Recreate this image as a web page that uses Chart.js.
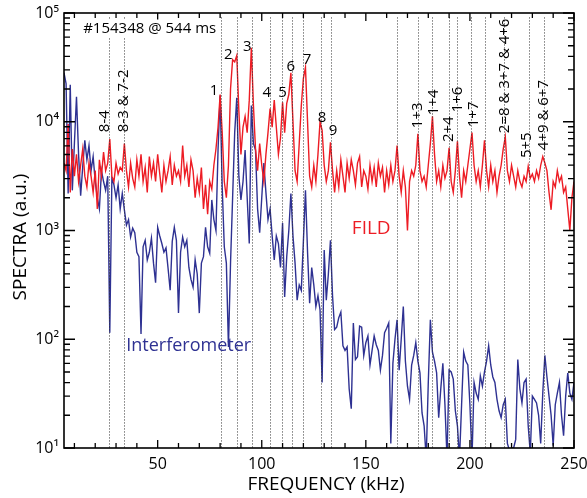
<!DOCTYPE html>
<html><head><meta charset="utf-8">
<script src="https://cdn.jsdelivr.net/npm/chart.js@4.4.1/dist/chart.umd.min.js"></script>
<style>html,body{margin:0;padding:0;background:#fff;overflow:hidden}</style>
</head><body>
<canvas id="c" width="587" height="498"></canvas>
<script>
// ---------- data ----------
const freqs = [5,6,7,8,9,10,11,12,13,14,15,16,17,18,19,20,21,22,23,24,25,26,27,28,29,30,31,32,33,34,35,36,37,38,39,40,41,42,43,44,45,46,47,48,49,50,51,52,53,54,55,56,57,58,59,60,61,62,63,64,65,66,67,68,69,70,71,72,73,74,75,76,77,78,79,80,81,82,83,84,85,86,87,88,89,90,91,92,93,94,95,96,97,98,99,100,101,102,103,104,105,106,107,108,109,110,111,112,113,114,115,116,117,118,119,120,121,122,123,124,125,126,127,128,129,130,131,132,133,134,135,136,137,138,139,140,141,142,143,144,145,146,147,148,149,150,151,152,153,154,155,156,157,158,159,160,161,162,163,164,165,166,167,168,169,170,171,172,173,174,175,176,177,178,179,180,181,182,183,184,185,186,187,188,189,190,191,192,193,194,195,196,197,198,199,200,201,202,203,204,205,206,207,208,209,210,211,212,213,214,215,216,217,218,219,220,221,222,223,224,225,226,227,228,229,230,231,232,233,234,235,236,237,238,239,240,241,242,243,244,245,246,247,248,249,250];

const fildValues = [
4170,3550,9550,2240,5620,3160,5010,2820,3980,5620,
3160,2510,4170,3160,2240,3550,1580,4470,3160,5250,
3550,4170,6920,3160,2820,4170,3310,3800,3550,6310,
3550,2510,4170,3020,2510,4470,3160,5010,2820,3800,
2240,4790,3160,4170,2820,5010,3310,2240,3980,2820,
3550,4790,2630,3980,3160,3550,2820,6030,3160,3980,
2510,4470,3550,2000,3020,2240,3800,1580,2630,1410,
2820,2400,3980,5620,8910,17800,7940,2820,2000,3980,
20000,37200,35500,40700,12600,5010,8910,11200,7940,15800,
47900,14100,5620,3550,6310,3980,2820,5010,7940,13200,
8910,15800,8910,5010,7080,15100,7940,14800,17800,28200,
10000,3550,2820,6310,14100,25100,31600,10000,3160,2510,
3980,2820,5010,10000,8320,3980,2820,3550,6460,3550,
2240,3550,2510,4470,3160,2240,4170,3020,4470,3550,
2630,4170,4790,2510,3550,3160,2400,3980,2820,3800,
2510,4170,3160,3800,2240,3550,2630,3980,2820,3550,
6030,3160,2240,3550,2510,1000,2820,3550,3160,3980,
7760,3550,2820,3160,2510,3980,6310,11200,5010,2820,
3550,2510,3980,3020,3550,5750,2820,2240,3550,6610,
3160,2000,3550,2820,3980,5620,7940,3980,2820,3550,
2510,3980,6760,3550,2510,3980,2820,3550,2240,3160,
3980,5620,7240,3550,2820,3980,3160,2510,3550,2820,
2510,3160,2820,3890,3020,3310,2820,3550,3020,3980,
4790,4170,3550,2240,1550,2820,2510,3550,2820,3160,
2240,2510,1580,1000,2000,2820];

const interferometerValues = [
28200,22400,2190,21900,2340,6310,17000,5010,2090,3890,
6760,4470,6030,3550,4790,2820,2000,1580,3550,2820,
2340,3160,115,3020,2630,2000,2630,1580,2190,1550,
1120,1260,871,1050,955,631,575,112,708,813,
537,631,851,501,331,1070,891,759,631,692,
447,282,794,1070,813,174,631,871,708,813,
457,355,302,537,398,174,501,575,1070,708,
617,1910,1260,1000,5500,17400,2510,708,501,85,
501,2000,7940,16600,3160,1910,2820,5500,2000,759,
14100,6310,5500,1580,955,2000,4170,2240,1260,1580,
891,537,891,759,457,1170,245,575,1000,2190,
891,501,229,316,282,794,2340,631,214,457,
316,200,251,186,40,661,229,398,813,251,
123,129,158,178,87,79,85,35,23,141,
65,69,132,129,71,93,107,58,79,107,
89,79,52,71,115,126,141,11,60,100,
151,52,100,200,63,37,28,58,71,93,
63,49,21,16,8,40,151,76,63,49,
19,35,60,25,8,52,50,43,22,16,
8,25,76,63,58,25,8,40,32,28,
46,37,50,63,87,58,45,40,28,22,
19,25,28,11,9.5,10,10,12,65,35,
26,40,43,16,9,30,28,26,20,11,
32,71,45,30,20,10.5,25,32,40,20,
13,30,49,32,28,40];

const xTickValues = [50, 100, 150, 200, 250];
const yTickValues = [10, 100, 1000, 10000, 100000];
const yTickLabels = ['10\u00B9', '10\u00B2', '10\u00B3', '10\u2074', '10\u2075'];

// dotted marker lines (kHz)
const markerFreqs = [26.6, 33.9, 80.3, 87.9, 95.3, 104.2, 109.8, 114.3, 119.9, 128.7, 133.2,
                     165.0, 175.1, 181.9, 189.9, 193.9, 200.7, 207.2, 216.6, 228.2, 235.7];

// upright mode numbers
const modeLabels = ['1','2','3','4','5','6','7','8','9'];
const modeLabelFreqs = [77.1, 83.9, 93.1, 102.4, 110.0, 114.0, 121.7, 128.9, 134.2];
const modeLabelLevels = [19100, 40900, 48700, 18300, 18300, 31900, 36800, 10800, 8200];

// rotated combination labels
const comboLabels = ['8-4', '8-3 & 7-2', '1+3', '1+4', '2+4', '1+6', '1+7', '2=8 & 3+7 & 4+6', '5+5', '4+9 & 6+7'];
const comboLabelFreqs = [24.8, 33.5, 174.8, 182.5, 190.0, 194.1, 201.8, 216.5, 227.3, 235.3];
const comboLabelLevels = [8020, 8020, 8730, 11500, 6500, 12200, 8900, 7850, 4630, 5480];

const shotText = '#154348 @ 544 ms';
const seriesNames = ['FILD', 'Interferometer'];

// ---------- chart ----------
const RED = '#ed1c24', BLUE = '#2e3192';
const FONT = "'Open Sans', sans-serif";
Chart.defaults.font.family = FONT;
Chart.defaults.color = '#000';

const toXY = (vals) => freqs.map((f, i) => ({x: f, y: vals[i]}));

const decor = {
  id: 'decor',
  afterDatasetsDraw(chart) {
    const {ctx, chartArea: a, scales: {x: xs, y: ys}} = chart;
    ctx.save();
    ctx.beginPath(); ctx.rect(a.left, a.top, a.right - a.left, a.bottom - a.top); ctx.clip();
    ctx.strokeStyle = '#333'; ctx.lineWidth = 1; ctx.setLineDash([1, 2]);
    const top = ys.getPixelForValue(91000);
    for (const f of markerFreqs) {
      const px = Math.round(xs.getPixelForValue(f)) + 0.5;
      ctx.beginPath(); ctx.moveTo(px, top); ctx.lineTo(px, a.bottom); ctx.stroke();
    }
    ctx.restore();
  },
  afterDraw(chart) {
    const {ctx, chartArea: a, scales: {x: xs, y: ys}} = chart;
    ctx.save();
    // ticks (inward)
    ctx.strokeStyle = '#000'; ctx.lineWidth = 1.3;
    ctx.beginPath();
    for (let v = 10; v <= 250; v += 10) {
      const px = xs.getPixelForValue(v);
      const len = (v % 50 === 0) ? 8 : 5;
      ctx.moveTo(px, a.bottom); ctx.lineTo(px, a.bottom - len);
      ctx.moveTo(px, a.top); ctx.lineTo(px, a.top + len);
    }
    for (let d = 10; d <= 100000; d *= 10) {
      for (let m = 1; m <= 9; m++) {
        const v = d * m;
        if (v > 100000) break;
        const py = ys.getPixelForValue(v);
        const len = m === 1 ? 11 : 6;
        ctx.moveTo(a.left, py); ctx.lineTo(a.left + len, py);
        ctx.moveTo(a.right, py); ctx.lineTo(a.right - len, py);
      }
    }
    ctx.stroke();
    // frame
    ctx.lineWidth = 1.6;
    ctx.strokeRect(a.left, a.top, a.right - a.left, a.bottom - a.top);

    // shot text
    ctx.font = '15px ' + FONT;
    ctx.textBaseline = 'middle'; ctx.textAlign = 'left';
    const sx = xs.getPixelForValue(14.2), sy = ys.getPixelForValue(72000);
    const tw = ctx.measureText(shotText).width;
    ctx.fillStyle = '#fff'; ctx.fillRect(sx - 2, sy - 9, tw + 4, 18);
    ctx.fillStyle = '#000'; ctx.fillText(shotText, sx, sy);

    // mode numbers
    ctx.textAlign = 'center';
    modeLabels.forEach((t, i) => {
      ctx.fillText(t, xs.getPixelForValue(modeLabelFreqs[i]), ys.getPixelForValue(modeLabelLevels[i]));
    });
    // rotated combos
    ctx.textAlign = 'left';
    comboLabels.forEach((t, i) => {
      ctx.save();
      ctx.translate(xs.getPixelForValue(comboLabelFreqs[i]), ys.getPixelForValue(comboLabelLevels[i]));
      ctx.rotate(-Math.PI / 2);
      ctx.fillText(t, 0, 0);
      ctx.restore();
    });

    // series names
    ctx.font = '19px ' + FONT; ctx.fillStyle = RED; ctx.textAlign = 'center';
    ctx.fillText(seriesNames[0], xs.getPixelForValue(152.6), ys.getPixelForValue(1047));
    ctx.font = '18px ' + FONT; ctx.fillStyle = BLUE; ctx.textAlign = 'left';
    ctx.fillText(seriesNames[1], xs.getPixelForValue(34.9), ys.getPixelForValue(87));

    // axis titles
    ctx.fillStyle = '#000'; ctx.font = '19px ' + FONT; ctx.textAlign = 'center';
    ctx.fillText('FREQUENCY (kHz)', 326, 485);
    ctx.save(); ctx.translate(21, 237); ctx.rotate(-Math.PI / 2);
    ctx.fillText('SPECTRA (a.u.)', 0, 0); ctx.restore();
    ctx.restore();
  }
};

new Chart(document.getElementById('c'), {
  type: 'line',
  data: {
    datasets: [
      {label: seriesNames[0], data: toXY(fildValues), borderColor: RED, borderWidth: 1.4,
       pointRadius: 0, tension: 0, order: 0},
      {label: seriesNames[1], data: toXY(interferometerValues), borderColor: BLUE, borderWidth: 1.4,
       pointRadius: 0, tension: 0, order: 1}
    ]
  },
  options: {
    responsive: false, animation: false, devicePixelRatio: 1,
    layout: {padding: {top: 13, right: 13, left: 0, bottom: 0}},
    plugins: {legend: {display: false}, tooltip: {enabled: false}},
    scales: {
      x: {
        type: 'linear', min: 5, max: 250,
        afterBuildTicks: s => { s.ticks = xTickValues.map(v => ({value: v})); },
        afterFit: s => { s.height = 50; s.paddingLeft = 0; s.paddingRight = 0; },
        ticks: {font: {size: 16}, color: '#000', padding: 7, maxRotation: 0,
                callback: v => String(v)},
        grid: {display: false, drawTicks: false},
        border: {display: false}
      },
      y: {
        type: 'logarithmic', min: 10, max: 100000,
        afterBuildTicks: s => { s.ticks = yTickValues.map(v => ({value: v})); },
        afterFit: s => { s.width = 64; s.paddingTop = 0; s.paddingBottom = 0; },
        ticks: {font: {size: 16}, color: '#000', padding: 5,
                callback: v => yTickLabels[yTickValues.indexOf(v)] ?? ''},
        grid: {display: false, drawTicks: false},
        border: {display: false}
      }
    }
  },
  plugins: [decor]
});
</script>
</body></html>
